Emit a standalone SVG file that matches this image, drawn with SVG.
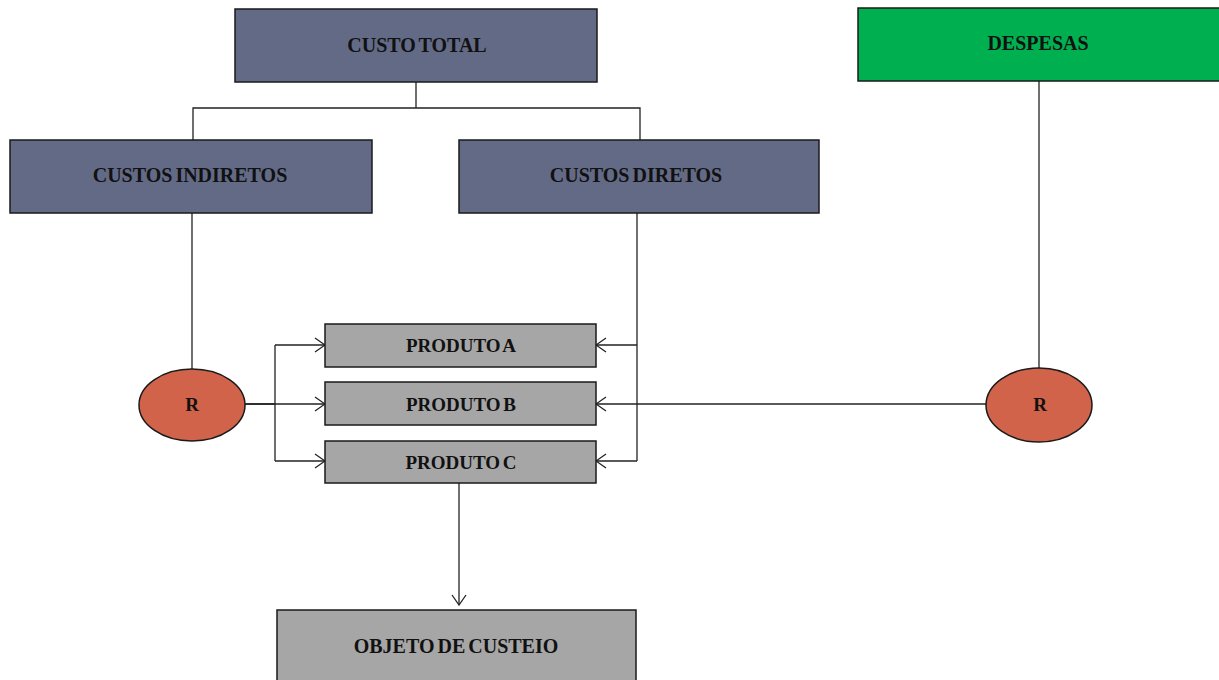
<svg xmlns="http://www.w3.org/2000/svg" width="1219" height="680" viewBox="0 0 1219 680">
  <defs>
    <style>
      .box { stroke: #1a1a1a; stroke-width: 1.5; }
      .slate { fill: #636a86; }
      .green { fill: #00b050; }
      .grey { fill: #a6a6a6; }
      .dot { fill: #d0634a; stroke: #1a1a1a; stroke-width: 1.5; }
      .lbl { font-family: "Liberation Serif", "Times New Roman", serif; font-weight: bold; fill: #111; text-anchor: middle; dominant-baseline: central; word-spacing: -2px; }
      .big { font-size: 20px; }
      .small { font-size: 19px; }
      .link { fill: none; stroke: #222; stroke-width: 1.3; }
      .arrow { marker-end: url(#open); }
    </style>
    <marker id="open" viewBox="0 0 12 16" refX="11" refY="8" markerWidth="12" markerHeight="16" markerUnits="userSpaceOnUse" orient="auto">
      <path d="M1 1 L11 8 L1 15" fill="none" stroke="#222" stroke-width="1.3"/>
    </marker>
  </defs>

  <g id="connectors">
    <!-- total cost splits into direct and indirect -->
    <path class="link" d="M416 82 V108 M193 140 V108 H640 V140"/>
    <!-- indirect costs to left apportionment -->
    <path class="link" d="M192 213 V369"/>
    <!-- expenses to right apportionment -->
    <path class="link" d="M1039 81 V368"/>
    <!-- left apportionment fans out to products -->
    <path class="link" d="M245 404 H275 M275 345 V461"/>
    <path class="link arrow" d="M275 345 H325"/>
    <path class="link arrow" d="M245 404 H325"/>
    <path class="link arrow" d="M275 461 H325"/>
    <!-- direct costs to products -->
    <path class="link" d="M637 213 V461"/>
    <path class="link arrow" d="M637 345 H596"/>
    <path class="link arrow" d="M637 461 H596"/>
    <!-- right apportionment to product B -->
    <path class="link arrow" d="M986 404 H596"/>
    <!-- products to cost object -->
    <path class="link arrow" d="M459 483 V605"/>
  </g>

  <g id="custo-total">
    <rect class="box slate" x="235" y="9" width="362" height="73"/>
    <text class="lbl big" x="417" y="45">CUSTO TOTAL</text>
  </g>
  <g id="despesas">
    <rect class="box green" x="858" y="8" width="370" height="73"/>
    <text class="lbl big" x="1038" y="43">DESPESAS</text>
  </g>
  <g id="custos-indiretos">
    <rect class="box slate" x="10" y="140" width="362" height="73"/>
    <text class="lbl big" x="190" y="175">CUSTOS INDIRETOS</text>
  </g>
  <g id="custos-diretos">
    <rect class="box slate" x="459" y="140" width="360" height="73"/>
    <text class="lbl big" x="636" y="175">CUSTOS DIRETOS</text>
  </g>
  <g id="rateio-esquerdo">
    <ellipse class="dot" cx="192" cy="405" rx="53" ry="36"/>
    <text class="lbl small" x="192" y="404">R</text>
  </g>
  <g id="rateio-direito">
    <ellipse class="dot" cx="1039" cy="405" rx="53" ry="37"/>
    <text class="lbl small" x="1040" y="404">R</text>
  </g>
  <g id="produto-a">
    <rect class="box grey" x="325" y="324" width="271" height="43"/>
    <text class="lbl small" x="461" y="345">PRODUTO A</text>
  </g>
  <g id="produto-b">
    <rect class="box grey" x="325" y="382" width="271" height="43"/>
    <text class="lbl small" x="461" y="404">PRODUTO B</text>
  </g>
  <g id="produto-c">
    <rect class="box grey" x="325" y="441" width="271" height="42"/>
    <text class="lbl small" x="461" y="462">PRODUTO C</text>
  </g>
  <g id="objeto-de-custeio">
    <rect class="box grey" x="277" y="610" width="359" height="80"/>
    <text class="lbl big" x="456" y="646">OBJETO DE CUSTEIO</text>
  </g>
</svg>
